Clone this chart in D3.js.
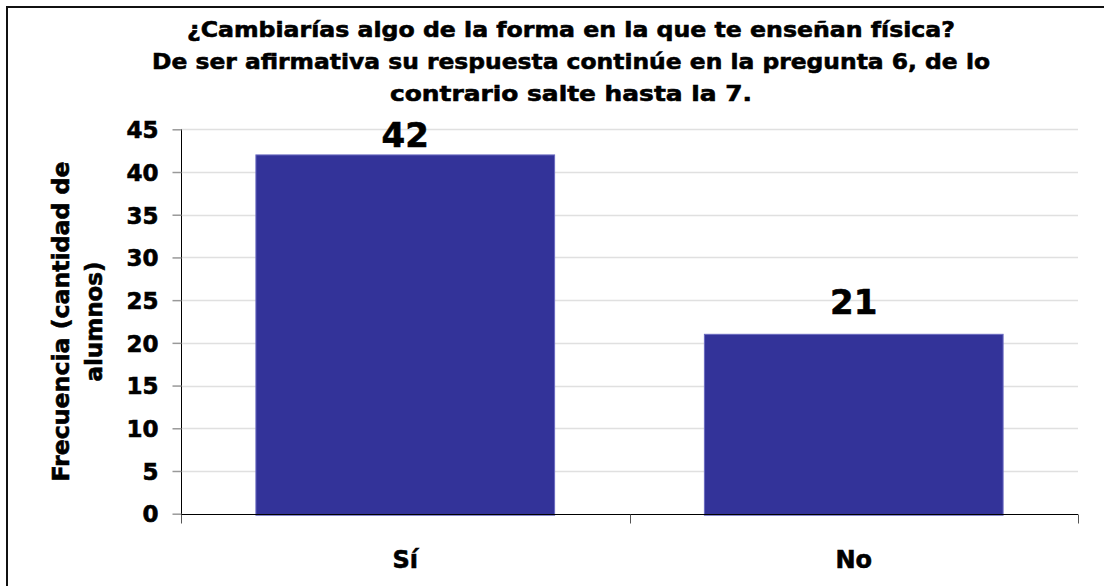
<!DOCTYPE html>
<html>
<head>
<meta charset="utf-8">
<script src="https://cdn.jsdelivr.net/npm/d3@7"></script>
<style>
  html, body { margin: 0; padding: 0; background: #fff; overflow: hidden; }
  svg { display: block; }
  text { font-family: "DejaVu Sans", sans-serif; font-weight: bold; fill: #000; stroke: #000; stroke-width: 0.6px; }
</style>
</head>
<body>
<svg id="chart" width="1104" height="586"></svg>
<script>
// ---- data ----
const categories = ["Sí", "No"];
const values = [42, 21];
const yTicks = [0, 5, 10, 15, 20, 25, 30, 35, 40, 45];
const titleLines = [
  "¿Cambiarías algo de la forma en la que te enseñan física?",
  "De ser afirmativa su respuesta continúe en la pregunta 6, de lo",
  "contrario salte hasta la 7."
];
const yTitleLines = ["Frecuencia (cantidad de", "alumnos)"];

// ---- layout ----
const W = 1104, H = 586;
const plot = { left: 181, right: 1078, top: 129.3, bottom: 513.7 };
const svg = d3.select("#chart");

// outer border
svg.append("rect").attr("x", 7).attr("y", 7).attr("width", W + 20).attr("height", H + 20)
  .attr("fill", "none").attr("stroke", "#111").attr("stroke-width", 2);

const x = d3.scaleBand().domain(categories).range([plot.left, plot.right]).paddingInner(0.334).paddingOuter(0.167);
const xOuter = d3.scaleBand().domain(categories).range([plot.left, plot.right]);
const y = d3.scaleLinear().domain([0, 45]).range([plot.bottom, plot.top]);

// gridlines
svg.append("g").selectAll("line").data(yTicks.filter(d => d > 0)).join("line")
  .attr("x1", plot.left).attr("x2", plot.right)
  .attr("y1", d => Math.round(y(d)) + 0.5).attr("y2", d => Math.round(y(d)) + 0.5)
  .attr("stroke", "#e0e0e0").attr("stroke-width", 1.5);

// y axis
const yAxis = svg.append("g").attr("transform", `translate(${plot.left + 0.5},0)`)
  .call(d3.axisLeft(y).tickValues(yTicks).tickSize(9).tickPadding(14).tickFormat(d3.format("d")));
yAxis.select(".domain").attr("stroke", "#000").attr("d", `M0,${plot.top}V${plot.bottom + 8}`);
yAxis.selectAll(".tick line").attr("stroke", "#999").attr("stroke-width", 1.5);
yAxis.selectAll(".tick text").attr("font-size", 23).attr("fill", "#000").attr("dy", "0.36em");

// bars
svg.append("g").selectAll("rect").data(values).join("rect")
  .attr("x", (d, i) => x(categories[i]))
  .attr("y", d => y(d))
  .attr("width", x.bandwidth())
  .attr("height", d => plot.bottom - y(d) + 1.5)
  .attr("fill", "#333399")
  .attr("stroke", "#6a6ac0").attr("stroke-width", 1);

// x axis
const xAxis = svg.append("g").attr("transform", `translate(0,${Math.round(plot.bottom) + 0.5})`)
  .call(d3.axisBottom(xOuter).tickSize(0).tickPadding(32));
xAxis.select(".domain").attr("stroke", "#000").attr("d", `M${plot.left},0H${plot.right}`);
xAxis.selectAll(".tick text").attr("font-size", 24).attr("dy", "0.9em").attr("fill", "#000");
// category boundary ticks
const bounds = [plot.left, xOuter(categories[1]), plot.right];
xAxis.append("g").selectAll("line").data(bounds).join("line")
  .attr("x1", d => Math.round(d) + 0.5).attr("x2", d => Math.round(d) + 0.5)
  .attr("y1", 0).attr("y2", 9).attr("stroke", "#555").attr("stroke-width", 1);

// value labels
svg.append("g").selectAll("text").data(values).join("text")
  .attr("x", (d, i) => x(categories[i]) + x.bandwidth() / 2)
  .attr("y", d => Math.max(y(d) - 20, 147))
  .attr("text-anchor", "middle").attr("font-size", 34)
  .text(d => d);

// title
const titleWidths = [768, 838, 362];
const titleG = svg.append("g");
titleLines.forEach((t, i) => {
  titleG.append("text").attr("x", 571).attr("y", 37 + i * 32)
    .attr("text-anchor", "middle").attr("font-size", 22).text(t)
    .attr("textLength", titleWidths[i]).attr("lengthAdjust", "spacingAndGlyphs");
});

// y axis title
const yt = svg.append("text").attr("transform", `translate(0,${(plot.top + plot.bottom) / 2}) rotate(-90)`)
  .attr("text-anchor", "middle").attr("font-size", 23);
yt.append("tspan").attr("x", 0).attr("y", 69).text(yTitleLines[0])
  .attr("textLength", 320).attr("lengthAdjust", "spacingAndGlyphs");
yt.append("tspan").attr("x", 0).attr("y", 102).text(yTitleLines[1]);
</script>
</body>
</html>
